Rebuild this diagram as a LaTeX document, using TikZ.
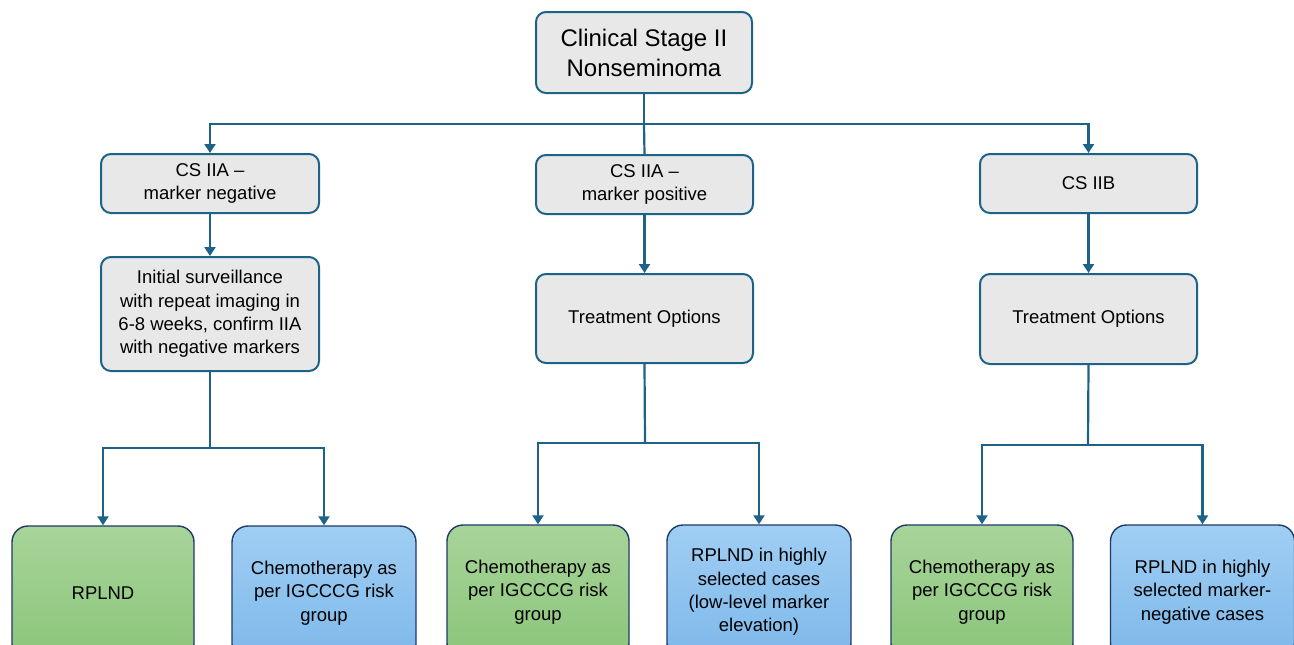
\documentclass[tikz,border=0pt]{standalone}
\usepackage{fontspec}
\setmainfont{Liberation Sans}
\usetikzlibrary{arrows.meta}
\definecolor{edge}{HTML}{1D6388}
\definecolor{grayfill}{HTML}{E8E8E8}
\definecolor{navy}{HTML}{1F3A68}
\definecolor{gtop}{HTML}{A8D49A}
\definecolor{gbot}{HTML}{8AC579}
\definecolor{btop}{HTML}{A0CEF3}
\definecolor{bbot}{HTML}{7DB8EA}
\tikzset{
  txt/.style={font=\fontsize{18.5}{23.3}\selectfont},
  graybox/.style={draw=edge, line width=2pt, fill=grayfill, rounded corners=10pt, align=center, txt, inner sep=0pt},
  greenbox/.style={draw=navy, line width=1.4pt, top color=gtop, bottom color=gbot, rounded corners=16pt, align=center, txt, inner sep=0pt, minimum width=182pt, minimum height=134pt},
  bluebox/.style={draw=navy, line width=1.4pt, top color=btop, bottom color=bbot, rounded corners=16pt, align=center, txt, inner sep=0pt, minimum width=184pt, minimum height=134pt},
  conn/.style={draw=edge, line width=2.2pt},
  arr/.style={conn, -{Triangle[length=9pt,width=11pt]}}
}
\begin{document}
\begin{tikzpicture}[x=1pt,y=-1pt]
\useasboundingbox (0,0) rectangle (1294,645);
\clip (0,0) rectangle (1294,645);
% top
\node[graybox, minimum width=216pt, minimum height=81pt, font=\fontsize{24}{30}\selectfont] (top) at (644,52.5) {Clinical Stage II\\Nonseminoma};
% level 1
\node[graybox, minimum width=218pt, minimum height=59pt] (a1) at (210,183.5) {CS IIA --\\marker negative};
\node[graybox, minimum width=217pt, minimum height=59pt] (b1) at (644.5,184.5) {CS IIA --\\marker positive};
\node[graybox, minimum width=217pt, minimum height=59pt] (c1) at (1088.5,183.5) {CS IIB};
% level 2
\node[graybox, minimum width=218pt, minimum height=114pt] (a2) at (210,314) {Initial surveillance\\with repeat imaging in\\6-8 weeks, confirm IIA\\with negative markers};
\node[graybox, minimum width=217pt, minimum height=89pt] (b2) at (644.5,318.5) {Treatment Options};
\node[graybox, minimum width=217pt, minimum height=90pt] (c2) at (1088.5,319) {Treatment Options};
% level 3
\node[greenbox] (a3) at (103,593) {RPLND};
\node[bluebox] (a4) at (324,593) {Chemotherapy as\\per IGCCCG risk\\group};
\node[greenbox] (b3) at (538,592) {Chemotherapy as\\per IGCCCG risk\\group};
\node[bluebox] (b4) at (759,592) {RPLND in highly\\selected cases\\(low-level marker\\elevation)};
\node[greenbox] (c3) at (982,592) {Chemotherapy as\\per IGCCCG risk\\group};
\node[bluebox] (c4) at (1202.5,592) {RPLND in highly\\selected marker-\\negative cases};
% coordinates
\coordinate (j0) at (644,124);
\coordinate (ja) at (210,448);
\coordinate (jb) at (645,443);
\coordinate (jc) at (1088,445);
% connectors
\draw[conn] (top.south) -- (j0);
\draw[arr] (j0) -| (a1.north);
\draw[conn] (j0) -- (b1.north);
\draw[arr] (j0) -| (c1.north);
\draw[arr] (a1.south) -- (a2.north);
\draw[arr] (b1.south) -- (b2.north);
\draw[arr] (c1.south) -- (c2.north);
\draw[conn] (a2.south) -- (ja);
\draw[arr] (ja) -| (a3.north);
\draw[arr] (ja) -| (a4.north);
\draw[conn] (b2.south) -- (jb);
\draw[arr] (jb) -| (b3.north);
\draw[arr] (jb) -| (b4.north);
\draw[conn] (c2.south) -- (jc);
\draw[arr] (jc) -| (c3.north);
\draw[arr] (jc) -| (c4.north);
\end{tikzpicture}
\end{document}
